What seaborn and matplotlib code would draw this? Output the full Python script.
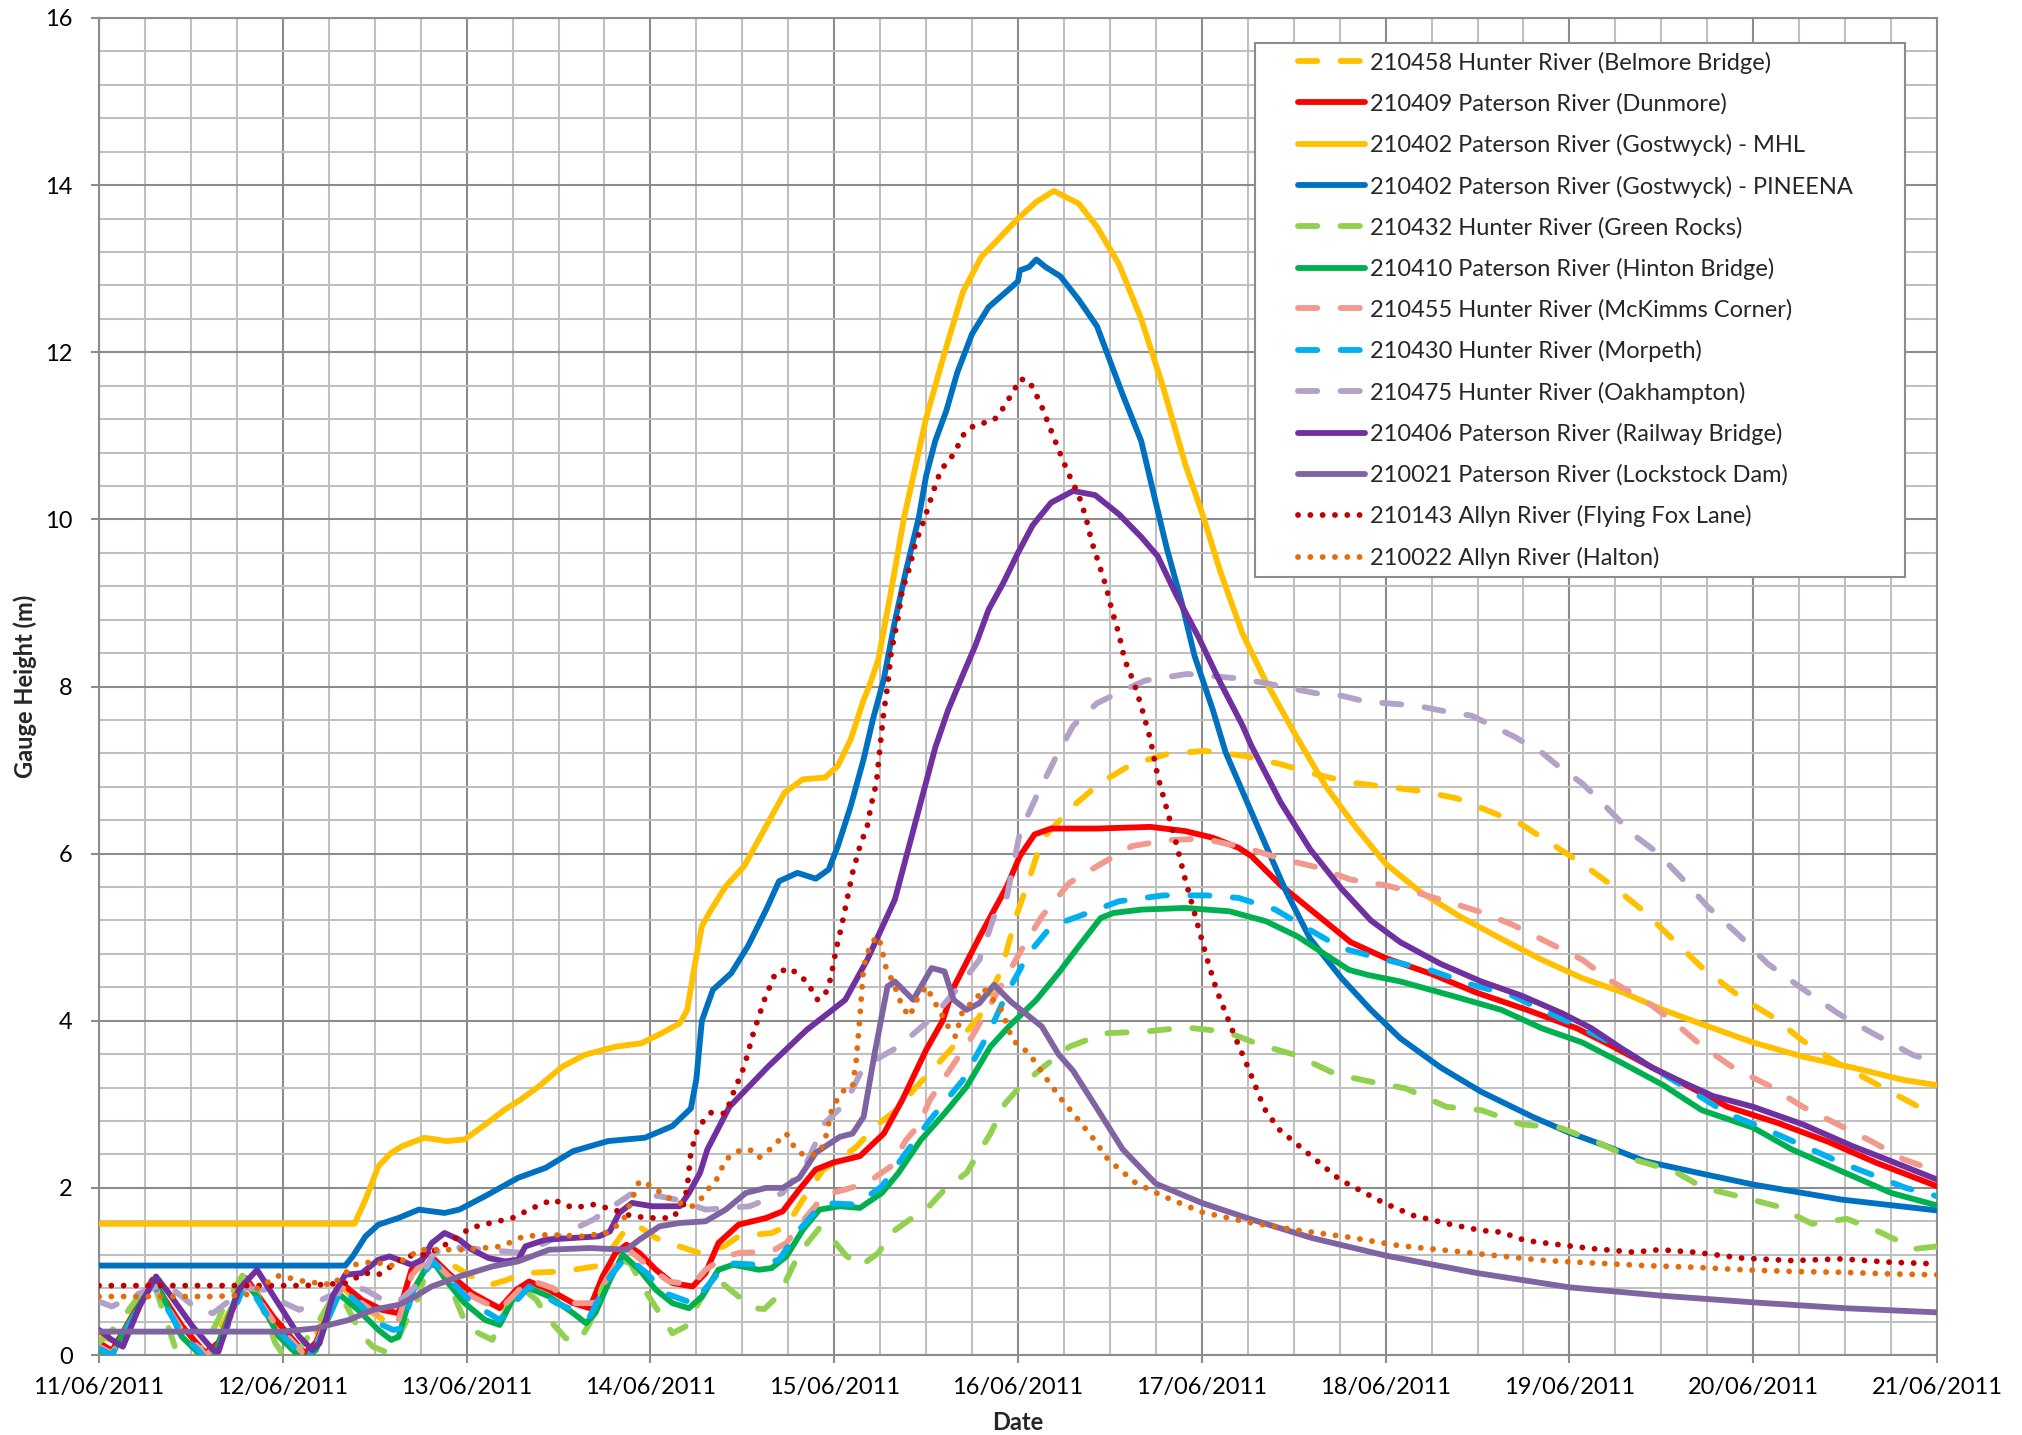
import matplotlib
matplotlib.use("Agg")
import matplotlib.dates as mdates
import matplotlib.pyplot as plt
import numpy as np
import pandas as pd
import seaborn as sns
from matplotlib.legend_handler import HandlerLine2D
from matplotlib.lines import Line2D
from matplotlib.ticker import MultipleLocator

# ---- data: time in day-of-June 2011, gauge height in metres ----
belmore_t = [11.00, 11.12, 11.29, 11.45, 11.58, 11.80, 11.95, 12.12, 12.32, 12.45, 12.55, 12.63, 12.72, 12.82,
             12.92, 13.02, 13.13, 13.22, 13.31, 13.52, 13.70, 13.80, 13.87, 13.93, 14.03, 14.10, 14.27, 14.40,
             14.48, 14.66, 14.74, 14.83, 14.94, 15.03, 15.12, 15.22, 15.36, 15.43, 15.55, 15.68, 15.79, 15.91,
             15.99, 16.06, 16.13, 16.30, 16.45, 16.62, 16.81, 17.01, 17.23, 17.43, 17.62, 17.81, 18.00, 18.19,
             18.39, 18.55, 18.74, 18.90, 19.07, 19.23, 19.40, 19.56, 19.72, 19.92, 20.11, 20.27, 20.46, 20.68,
             20.90, 21.00]
belmore_h = [0.22, 0.15, 0.86, 0.35, 0.00, 0.88, 0.40, 0.00, 0.82, 0.55, 0.42, 0.45, 0.85, 1.15,
             1.08, 0.95, 0.84, 0.90, 0.98, 1.00, 1.06, 1.30, 1.52, 1.55, 1.40, 1.34, 1.22, 1.30,
             1.42, 1.46, 1.54, 1.86, 2.22, 2.34, 2.49, 2.73, 2.97, 3.17, 3.45, 3.77, 4.05, 4.61,
             5.25, 5.69, 6.17, 6.57, 6.85, 7.07, 7.19, 7.23, 7.17, 7.07, 6.95, 6.85, 6.80, 6.75,
             6.66, 6.52, 6.35, 6.12, 5.88, 5.62, 5.32, 4.98, 4.64, 4.30, 4.04, 3.76, 3.49, 3.23,
             2.97, 2.90]

dunmore_t = [11.00, 11.07, 11.15, 11.29, 11.45, 11.58, 11.65, 11.80, 11.95, 12.12, 12.18, 12.32, 12.43, 12.54,
             12.63, 12.70, 12.79, 12.90, 13.03, 13.18, 13.27, 13.34, 13.45, 13.58, 13.67, 13.74, 13.81, 13.87,
             13.94, 14.03, 14.12, 14.23, 14.30, 14.37, 14.48, 14.63, 14.72, 14.81, 14.90, 14.99, 15.14, 15.27,
             15.37, 15.50, 15.59, 15.65, 15.79, 15.94, 16.01, 16.09, 16.18, 16.43, 16.72, 16.91, 17.06, 17.20,
             17.27, 17.43, 17.62, 17.81, 18.00, 18.25, 18.49, 18.77, 19.04, 19.23, 19.45, 19.67, 19.86, 20.13,
             20.41, 20.67, 21.00]
dunmore_h = [0.15, 0.05, 0.35, 0.90, 0.35, 0.02, 0.15, 0.92, 0.45, 0.02, 0.15, 0.86, 0.66, 0.54,
             0.50, 1.02, 1.22, 0.98, 0.74, 0.56, 0.78, 0.88, 0.78, 0.62, 0.56, 0.94, 1.22, 1.32,
             1.22, 1.02, 0.86, 0.82, 0.98, 1.34, 1.56, 1.64, 1.72, 1.98, 2.22, 2.30, 2.38, 2.65,
             3.05, 3.65, 4.00, 4.40, 5.00, 5.61, 5.97, 6.23, 6.30, 6.30, 6.32, 6.27, 6.19, 6.07,
             5.97, 5.62, 5.28, 4.94, 4.75, 4.56, 4.34, 4.13, 3.91, 3.70, 3.44, 3.19, 2.97, 2.78,
             2.55, 2.30, 2.02]

mhl_t = [11.00, 12.39, 12.45, 12.52, 12.59, 12.65, 12.77, 12.89, 12.99, 13.09, 13.21, 13.29, 13.39, 13.52,
         13.64, 13.81, 13.95, 14.06, 14.16, 14.20, 14.24, 14.28, 14.32, 14.41, 14.51, 14.61, 14.73, 14.83,
         14.95, 15.02, 15.09, 15.16, 15.19, 15.24, 15.31, 15.38, 15.44, 15.50, 15.60, 15.70, 15.80, 16.00,
         16.10, 16.195, 16.33, 16.43, 16.55, 16.67, 16.79, 16.91, 17.01, 17.10, 17.22, 17.35, 17.51, 17.67,
         17.84, 18.00, 18.19, 18.41, 18.63, 18.85, 19.07, 19.29, 19.51, 19.72, 20.00, 20.27, 20.54, 20.82,
         21.00]
mhl_h = [1.57, 1.57, 1.86, 2.26, 2.42, 2.50, 2.60, 2.56, 2.58, 2.74, 2.94, 3.05, 3.21, 3.45,
         3.59, 3.69, 3.73, 3.85, 3.97, 4.13, 4.65, 5.13, 5.29, 5.61, 5.85, 6.25, 6.73, 6.89,
         6.91, 7.05, 7.37, 7.84, 8.00, 8.32, 9.15, 10.02, 10.61, 11.21, 11.99, 12.72, 13.14, 13.60,
         13.80, 13.93, 13.78, 13.50, 13.05, 12.40, 11.58, 10.66, 10.02, 9.38, 8.64, 8.05, 7.42, 6.82,
         6.31, 5.88, 5.54, 5.24, 4.98, 4.73, 4.51, 4.34, 4.13, 3.96, 3.74, 3.57, 3.44, 3.29,
         3.23]

pineena_t = [11.00, 12.34, 12.38, 12.45, 12.52, 12.63, 12.74, 12.88, 12.96, 13.10, 13.28, 13.43, 13.58, 13.77,
             13.97, 14.12, 14.22, 14.25, 14.28, 14.34, 14.44, 14.53, 14.63, 14.70, 14.80, 14.90, 14.97, 15.02,
             15.09, 15.16, 15.21, 15.27, 15.33, 15.39, 15.46, 15.50, 15.55, 15.61, 15.67, 15.75, 15.84, 15.96,
             16.00, 16.01, 16.06, 16.10, 16.15, 16.23, 16.33, 16.43, 16.50, 16.57, 16.67, 16.74, 16.81, 16.89,
             16.96, 17.06, 17.13, 17.24, 17.35, 17.46, 17.59, 17.76, 17.92, 18.08, 18.30, 18.52, 18.80, 19.00,
             19.20, 19.41, 19.70, 20.00, 20.48, 21.00]
pineena_h = [1.07, 1.07, 1.18, 1.42, 1.56, 1.64, 1.74, 1.70, 1.74, 1.90, 2.12, 2.24, 2.44, 2.56,
             2.60, 2.74, 2.95, 3.30, 4.00, 4.37, 4.57, 4.89, 5.33, 5.67, 5.77, 5.70, 5.81, 6.09,
             6.57, 7.13, 7.60, 8.09, 8.78, 9.38, 10.02, 10.52, 10.94, 11.30, 11.76, 12.22, 12.54, 12.77,
             12.85, 12.98, 13.02, 13.11, 13.02, 12.91, 12.63, 12.31, 11.90, 11.49, 10.94, 10.29, 9.65, 9.01,
             8.37, 7.72, 7.21, 6.65, 6.09, 5.54, 4.98, 4.51, 4.13, 3.79, 3.44, 3.15, 2.85, 2.66,
             2.50, 2.32, 2.18, 2.04, 1.86, 1.73]

greenrocks_t = [11.00, 11.11, 11.24, 11.30, 11.42, 11.50, 11.63, 11.69, 11.78, 11.85, 11.96, 12.03, 12.10, 12.20,
                12.26, 12.32, 12.43, 12.49, 12.58, 12.63, 12.74, 12.79, 12.85, 12.92, 12.99, 13.03, 13.14, 13.22,
                13.29, 13.38, 13.45, 13.54, 13.61, 13.67, 13.74, 13.83, 13.89, 13.98, 14.05, 14.12, 14.19, 14.25,
                14.34, 14.39, 14.48, 14.56, 14.62, 14.70, 14.74, 14.81, 14.92, 14.97, 15.06, 15.14, 15.24, 15.31,
                15.41, 15.50, 15.60, 15.72, 15.85, 15.93, 16.01, 16.14, 16.28, 16.47, 16.69, 16.91, 17.13, 17.32,
                17.51, 17.73, 17.92, 18.11, 18.33, 18.52, 18.74, 18.95, 19.15, 19.35, 19.57, 19.73, 19.92, 20.13,
                20.32, 20.51, 20.69, 20.88, 21.00]
greenrocks_h = [0.15, 0.38, 0.78, 0.85, 0.05, -0.10, 0.34, 0.62, 0.95, 0.80, 0.14, -0.08, 0.10, 0.42,
                0.65, 0.70, 0.24, 0.10, 0.02, 0.22, 0.70, 1.10, 1.05, 0.78, 0.40, 0.30, 0.18, 0.58,
                0.82, 0.66, 0.42, 0.20, 0.16, 0.38, 0.82, 1.14, 1.10, 0.74, 0.50, 0.26, 0.34, 0.58,
                0.90, 0.86, 0.70, 0.56, 0.55, 0.72, 0.90, 1.22, 1.52, 1.44, 1.20, 1.06, 1.22, 1.46,
                1.62, 1.74, 1.98, 2.18, 2.65, 3.01, 3.21, 3.45, 3.69, 3.85, 3.87, 3.92, 3.87, 3.71,
                3.59, 3.36, 3.27, 3.19, 2.97, 2.93, 2.76, 2.72, 2.55, 2.34, 2.20, 2.00, 1.90, 1.78,
                1.57, 1.63, 1.47, 1.27, 1.30]

hinton_t = [11.00, 11.07, 11.14, 11.29, 11.34, 11.45, 11.58, 11.63, 11.76, 11.80, 11.86, 11.98, 12.11, 12.18,
            12.30, 12.41, 12.52, 12.59, 12.63, 12.70, 12.79, 12.83, 12.90, 12.99, 13.10, 13.18, 13.25, 13.34,
            13.45, 13.58, 13.65, 13.70, 13.78, 13.85, 13.94, 14.03, 14.12, 14.21, 14.28, 14.37, 14.45, 14.59,
            14.66, 14.74, 14.83, 14.92, 15.03, 15.14, 15.26, 15.35, 15.47, 15.60, 15.72, 15.85, 15.95, 16.10,
            16.22, 16.33, 16.45, 16.52, 16.67, 16.91, 17.15, 17.35, 17.52, 17.66, 17.80, 17.90, 18.08, 18.36,
            18.63, 18.85, 19.07, 19.29, 19.51, 19.72, 20.00, 20.21, 20.48, 20.75, 21.00]
hinton_h = [0.06, 0.00, 0.30, 0.86, 0.74, 0.22, -0.06, 0.02, 0.78, 0.86, 0.70, 0.22, -0.06, 0.06,
            0.74, 0.54, 0.30, 0.18, 0.22, 0.74, 1.08, 1.08, 0.86, 0.62, 0.42, 0.36, 0.66, 0.80,
            0.70, 0.50, 0.38, 0.50, 0.90, 1.20, 1.02, 0.78, 0.62, 0.56, 0.70, 1.02, 1.08, 1.02,
            1.04, 1.18, 1.50, 1.74, 1.78, 1.76, 1.94, 2.18, 2.57, 2.89, 3.21, 3.69, 3.93, 4.25,
            4.57, 4.89, 5.23, 5.29, 5.33, 5.35, 5.31, 5.19, 5.01, 4.81, 4.61, 4.55, 4.47, 4.30,
            4.13, 3.91, 3.74, 3.49, 3.23, 2.93, 2.72, 2.46, 2.20, 1.94, 1.79]

mckimms_t = [11.00, 11.07, 11.15, 11.29, 11.45, 11.58, 11.65, 11.80, 11.95, 12.12, 12.18, 12.32, 12.43, 12.54,
             12.63, 12.70, 12.79, 12.90, 13.03, 13.18, 13.34, 13.47, 13.58, 13.69, 13.76, 13.87, 13.99, 14.10,
             14.23, 14.30, 14.41, 14.48, 14.66, 14.74, 14.85, 14.95, 15.06, 15.18, 15.31, 15.39, 15.46, 15.52,
             15.58, 15.64, 15.75, 15.89, 16.04, 16.13, 16.28, 16.43, 16.62, 16.81, 17.01, 17.15, 17.21, 17.43,
             17.62, 17.81, 18.00, 18.19, 18.36, 18.52, 18.69, 18.88, 19.07, 19.23, 19.40, 19.56, 19.72, 19.89,
             20.08, 20.27, 20.46, 20.65, 20.82, 21.00]
mckimms_h = [0.10, 0.02, 0.30, 0.85, 0.30, 0.00, 0.12, 0.88, 0.40, 0.00, 0.12, 0.82, 0.62, 0.45,
             0.42, 0.95, 1.18, 0.95, 0.70, 0.54, 0.90, 0.80, 0.62, 0.62, 0.90, 1.28, 1.06, 0.88,
             0.84, 1.02, 1.18, 1.22, 1.24, 1.34, 1.66, 1.92, 1.98, 2.06, 2.26, 2.57, 2.75, 3.05,
             3.25, 3.45, 3.81, 4.35, 4.93, 5.25, 5.65, 5.85, 6.09, 6.16, 6.18, 6.11, 6.09, 5.94,
             5.84, 5.69, 5.62, 5.52, 5.41, 5.30, 5.15, 4.94, 4.73, 4.47, 4.26, 4.00, 3.70, 3.44,
             3.23, 2.97, 2.76, 2.55, 2.34, 2.20]

morpeth_t = [11.00, 11.07, 11.15, 11.29, 11.45, 11.58, 11.65, 11.80, 11.95, 12.12, 12.18, 12.32, 12.43, 12.52,
             12.60, 12.65, 12.72, 12.82, 12.90, 13.03, 13.18, 13.34, 13.49, 13.67, 13.78, 13.87, 13.98, 14.08,
             14.23, 14.34, 14.41, 14.59, 14.70, 14.81, 14.94, 15.12, 15.26, 15.39, 15.52, 15.70, 15.84, 15.94,
             16.06, 16.18, 16.33, 16.55, 16.79, 17.03, 17.20, 17.40, 17.57, 17.76, 18.00, 18.25, 18.47, 18.69,
             18.85, 19.07, 19.26, 19.45, 19.67, 19.86, 20.05, 20.48, 20.83, 21.00]
morpeth_h = [0.08, 0.00, 0.30, 0.86, 0.26, -0.04, 0.08, 0.88, 0.35, -0.04, 0.10, 0.80, 0.58, 0.38,
             0.30, 0.32, 0.85, 1.12, 0.92, 0.62, 0.42, 0.82, 0.62, 0.46, 0.94, 1.18, 0.98, 0.74,
             0.62, 0.90, 1.10, 1.08, 1.14, 1.50, 1.82, 1.80, 2.02, 2.42, 2.81, 3.29, 3.85, 4.33,
             4.81, 5.13, 5.25, 5.43, 5.50, 5.50, 5.47, 5.33, 5.11, 4.87, 4.73, 4.60, 4.43, 4.30,
             4.13, 3.91, 3.70, 3.44, 3.15, 2.89, 2.72, 2.30, 2.00, 1.90]

oakhampton_t = [11.00, 11.07, 11.20, 11.36, 11.54, 11.62, 11.80, 11.90, 12.01, 12.09, 12.25, 12.38, 12.45, 12.56,
                12.63, 12.74, 12.81, 12.88, 12.99, 13.10, 13.31, 13.54, 13.69, 13.89, 14.05, 14.14, 14.30, 14.54,
                14.72, 14.85, 14.95, 15.06, 15.16, 15.35, 15.54, 15.68, 15.79, 15.87, 15.94, 16.01, 16.11, 16.21,
                16.30, 16.43, 16.57, 16.69, 16.92, 17.18, 17.35, 17.48, 17.62, 17.76, 17.89, 18.06, 18.17, 18.33,
                18.47, 18.58, 18.70, 18.85, 18.96, 19.07, 19.20, 19.34, 19.48, 19.61, 19.75, 19.92, 20.08, 20.27,
                20.46, 20.65, 20.87, 21.00]
oakhampton_h = [0.64, 0.58, 0.72, 0.86, 0.54, 0.50, 0.80, 0.78, 0.62, 0.54, 0.70, 0.82, 0.78, 0.64,
                0.64, 0.86, 1.18, 1.30, 1.28, 1.26, 1.22, 1.46, 1.62, 1.92, 1.90, 1.86, 1.74, 1.78,
                1.94, 2.30, 2.78, 3.01, 3.45, 3.69, 4.05, 4.41, 4.73, 5.25, 5.49, 6.25, 6.73, 7.17,
                7.53, 7.80, 7.95, 8.07, 8.15, 8.10, 8.04, 7.98, 7.92, 7.89, 7.82, 7.79, 7.77, 7.70,
                7.65, 7.53, 7.40, 7.21, 7.01, 6.84, 6.56, 6.24, 6.01, 5.71, 5.37, 5.03, 4.68, 4.38,
                4.09, 3.85, 3.59, 3.50]

railway_t = [11.00, 11.07, 11.13, 11.22, 11.31, 11.38, 11.51, 11.62, 11.65, 11.76, 11.86, 11.94, 12.09, 12.16,
             12.20, 12.27, 12.34, 12.43, 12.52, 12.58, 12.63, 12.70, 12.76, 12.81, 12.88, 12.96, 13.03, 13.12,
             13.21, 13.28, 13.32, 13.43, 13.72, 13.78, 13.83, 13.90, 14.01, 14.16, 14.21, 14.27, 14.31, 14.43,
             14.64, 14.85, 15.06, 15.18, 15.33, 15.55, 15.62, 15.70, 15.77, 15.84, 15.92, 16.00, 16.08, 16.18,
             16.30, 16.42, 16.55, 16.67, 16.76, 16.86, 16.98, 17.10, 17.22, 17.27, 17.43, 17.59, 17.76, 17.92,
             18.08, 18.30, 18.52, 18.74, 18.96, 19.12, 19.29, 19.45, 19.61, 19.78, 20.00, 20.27, 20.54, 20.75,
             21.00]
railway_h = [0.30, 0.18, 0.10, 0.58, 0.94, 0.74, 0.34, 0.06, 0.04, 0.78, 1.02, 0.74, 0.22, 0.06,
             0.14, 0.70, 0.96, 0.98, 1.14, 1.18, 1.14, 1.08, 1.14, 1.34, 1.46, 1.38, 1.26, 1.16,
             1.12, 1.14, 1.30, 1.38, 1.42, 1.48, 1.70, 1.82, 1.78, 1.78, 1.94, 2.18, 2.46, 2.97,
             3.45, 3.89, 4.25, 4.73, 5.45, 7.27, 7.72, 8.14, 8.50, 8.92, 9.24, 9.60, 9.93, 10.20,
             10.34, 10.29, 10.06, 9.79, 9.56, 9.10, 8.60, 8.05, 7.54, 7.29, 6.61, 6.05, 5.58, 5.20,
             4.94, 4.68, 4.47, 4.30, 4.09, 3.91, 3.66, 3.44, 3.27, 3.10, 2.97, 2.76, 2.50, 2.32,
             2.10]

lockstock_t = [11.00, 12.00, 12.18, 12.36, 12.49, 12.63, 12.72, 12.81, 12.96, 13.14, 13.28, 13.45, 13.67, 13.87,
               13.94, 14.05, 14.16, 14.30, 14.41, 14.52, 14.63, 14.72, 14.81, 14.90, 15.03, 15.10, 15.16, 15.22,
               15.29, 15.33, 15.43, 15.53, 15.60, 15.65, 15.72, 15.79, 15.87, 15.96, 16.13, 16.22, 16.30, 16.43,
               16.57, 16.75, 17.00, 17.26, 17.60, 18.00, 18.50, 19.00, 19.50, 20.00, 20.50, 21.00]
lockstock_h = [0.28, 0.28, 0.32, 0.42, 0.54, 0.60, 0.70, 0.82, 0.94, 1.06, 1.12, 1.26, 1.28, 1.26,
               1.38, 1.54, 1.58, 1.60, 1.74, 1.94, 2.00, 2.00, 2.12, 2.42, 2.61, 2.65, 2.85, 3.61,
               4.41, 4.47, 4.25, 4.63, 4.59, 4.25, 4.13, 4.21, 4.43, 4.23, 3.93, 3.60, 3.40, 2.95,
               2.46, 2.05, 1.82, 1.63, 1.40, 1.19, 0.98, 0.81, 0.71, 0.63, 0.56, 0.51]

flyingfox_t = [11.00, 12.12, 12.34, 12.45, 12.52, 12.67, 12.79, 12.91, 13.02, 13.13, 13.25, 13.36, 13.47, 13.58,
               13.69, 13.80, 13.90, 14.01, 14.12, 14.18, 14.20, 14.22, 14.26, 14.33, 14.41, 14.45, 14.51, 14.56,
               14.62, 14.68, 14.76, 14.85, 14.91, 14.95, 14.98, 15.01, 15.04, 15.07, 15.10, 15.14, 15.18, 15.20,
               15.23, 15.25, 15.27, 15.29, 15.31, 15.35, 15.37, 15.41, 15.44, 15.49, 15.54, 15.58, 15.65, 15.71,
               15.76, 15.87, 15.91, 15.98, 16.01, 16.06, 16.12, 16.17, 16.22, 16.27, 16.33, 16.37, 16.40, 16.44,
               16.48, 16.51, 16.55, 16.58, 16.63, 16.67, 16.72, 16.76, 16.81, 16.86, 16.91, 16.98, 17.03, 17.08,
               17.13, 17.18, 17.25, 17.34, 17.42, 17.53, 17.75, 17.99, 18.15, 18.34, 18.52, 18.63, 18.76, 18.98,
               19.14, 19.35, 19.49, 19.68, 19.94, 20.21, 20.48, 20.75, 21.00]
flyingfox_h = [0.83, 0.83, 0.86, 0.98, 0.96, 1.18, 1.21, 1.35, 1.52, 1.58, 1.64, 1.76, 1.86, 1.76,
               1.80, 1.74, 1.66, 1.64, 1.64, 1.80, 2.00, 2.42, 2.73, 2.90, 2.89, 3.13, 3.45, 3.85,
               4.25, 4.57, 4.63, 4.47, 4.25, 4.31, 4.50, 4.85, 5.13, 5.45, 5.77, 6.09, 6.33, 6.57,
               6.85, 7.29, 7.70, 8.00, 8.41, 8.85, 9.15, 9.42, 9.70, 10.00, 10.34, 10.59, 10.78, 11.04,
               11.12, 11.19, 11.30, 11.55, 11.68, 11.66, 11.40, 11.12, 10.84, 10.57, 10.29, 10.02, 9.74, 9.47,
               9.19, 8.92, 8.62, 8.32, 8.05, 7.77, 7.37, 6.93, 6.53, 6.13, 5.69, 5.13, 4.73, 4.37,
               4.09, 3.81, 3.45, 2.95, 2.70, 2.50, 2.10, 1.82, 1.67, 1.57, 1.49, 1.47, 1.37, 1.31,
               1.27, 1.23, 1.26, 1.23, 1.16, 1.13, 1.15, 1.11, 1.09]

halton_t = [11.00, 11.63, 11.80, 11.98, 12.12, 12.27, 12.39, 12.50, 12.58, 12.68, 12.74, 12.99, 13.19, 13.31,
            13.45, 13.63, 13.76, 13.85, 13.94, 14.01, 14.08, 14.16, 14.23, 14.28, 14.32, 14.36, 14.41, 14.48,
            14.54, 14.59, 14.65, 14.70, 14.74, 14.77, 14.81, 14.86, 14.92, 14.95, 14.99, 15.06, 15.10, 15.12,
            15.14, 15.16, 15.20, 15.24, 15.26, 15.28, 15.33, 15.37, 15.41, 15.45, 15.50, 15.56, 15.62, 15.66,
            15.70, 15.77, 15.81, 15.85, 15.91, 15.97, 16.06, 16.16, 16.24, 16.33, 16.41, 16.49, 16.64, 16.79,
            17.00, 17.25, 17.53, 17.80, 18.07, 18.34, 18.60, 18.87, 19.14, 19.41, 19.68, 19.94, 20.21, 20.48,
            20.75, 21.00]
halton_h = [0.70, 0.70, 0.72, 0.95, 0.88, 0.84, 1.08, 1.12, 1.06, 1.16, 1.26, 1.26, 1.30, 1.42,
            1.44, 1.42, 1.46, 1.60, 2.08, 2.02, 1.90, 1.82, 1.78, 1.88, 2.00, 2.10, 2.34, 2.44,
            2.46, 2.36, 2.46, 2.57, 2.65, 2.53, 2.42, 2.38, 2.42, 2.57, 2.97, 3.19, 3.21, 3.53,
            4.05, 4.65, 4.93, 5.01, 4.85, 4.65, 4.41, 4.17, 4.05, 4.25, 4.41, 4.17, 3.93, 3.81,
            4.13, 4.25, 4.39, 4.29, 4.13, 3.77, 3.61, 3.29, 3.05, 2.81, 2.59, 2.34, 2.06, 1.90,
            1.71, 1.59, 1.49, 1.41, 1.31, 1.25, 1.19, 1.13, 1.10, 1.07, 1.05, 1.02, 1.00, 0.99,
            0.97, 0.96]

labels = [
    "210458 Hunter River (Belmore Bridge)",
    "210409 Paterson River (Dunmore)",
    "210402 Paterson River (Gostwyck) - MHL",
    "210402 Paterson River (Gostwyck) - PINEENA",
    "210432 Hunter River (Green Rocks)",
    "210410 Paterson River (Hinton Bridge)",
    "210455 Hunter River (McKimms Corner)",
    "210430 Hunter River (Morpeth)",
    "210475 Hunter River (Oakhampton)",
    "210406 Paterson River (Railway Bridge)",
    "210021 Paterson River (Lockstock Dam)",
    "210143 Allyn River (Flying Fox Lane)",
    "210022 Allyn River (Halton)",
]
times = [belmore_t, dunmore_t, mhl_t, pineena_t, greenrocks_t, hinton_t, mckimms_t,
         morpeth_t, oakhampton_t, railway_t, lockstock_t, flyingfox_t, halton_t]
heights = [belmore_h, dunmore_h, mhl_h, pineena_h, greenrocks_h, hinton_h, mckimms_h,
           morpeth_h, oakhampton_h, railway_h, lockstock_h, flyingfox_h, halton_h]

# ---- styles ----
colors = ["#FFC000", "#FF0000", "#FFC000", "#0070C0", "#92D050", "#00B050", "#F0998C",
          "#00B0F0", "#B3A2C7", "#7030A0", "#8064A2", "#C00000", "#E46C0A"]
DASH = (3.3, 4.0)
DOT = (0.01, 2.1)
patterns = [DASH, None, None, None, DASH, None, DASH, DASH, DASH, None, None, DOT, DOT]
LW = 4.2
FONT = 17


def to_dates(days):
    return pd.Timestamp("2011-06-01") + pd.to_timedelta(np.asarray(days, dtype=float) - 1.0, unit="D")


class IndentedLine(HandlerLine2D):
    # Excel style legend keys: indent the line sample from the frame edge
    def get_xdata(self, legend, xdescent, ydescent, width, height, fontsize):
        lead = 1.45 * fontsize
        return np.array([-xdescent + lead, -xdescent + width]), np.array([-xdescent + lead + 0.5 * width])


sns.set_theme(style="white")
plt.rcParams["font.family"] = ["Lato", "DejaVu Sans"]

fig = plt.figure(figsize=(20.22, 14.35), dpi=100)
ax = fig.add_axes([99 / 2022, 80 / 1435, 1838 / 2022, 1337 / 1435])

for i, (lab, t, h, col, pat) in enumerate(zip(labels, times, heights, colors, patterns)):
    sns.lineplot(x=to_dates(t), y=h, ax=ax, color=col, linewidth=LW, label=lab,
                 sort=False, estimator=None, zorder=3 + i,
                 solid_capstyle="round", dash_capstyle="round")
    line = ax.get_lines()[-1]
    if pat is not None:
        line.set_dashes(pat)

ax.set_xlim(pd.Timestamp("2011-06-11"), pd.Timestamp("2011-06-21"))
ax.set_ylim(0, 16)
ax.xaxis.set_major_locator(mdates.DayLocator())
ax.xaxis.set_major_formatter(mdates.DateFormatter("%d/%m/%Y"))
ax.xaxis.set_minor_locator(mdates.HourLocator(byhour=[6, 12, 18]))
ax.yaxis.set_major_locator(MultipleLocator(2))
ax.yaxis.set_minor_locator(MultipleLocator(0.4))

ax.set_axisbelow(True)
ax.grid(which="major", color="#8C8C8C", linewidth=1.5)
ax.grid(which="minor", color="#C0C0C0", linewidth=1.5)
for side in ["left", "right", "top", "bottom"]:
    ax.spines[side].set_visible(True)
    ax.spines[side].set_color("#8C8C8C")
    ax.spines[side].set_linewidth(1.5)

ax.tick_params(which="major", length=6, width=1.5, color="#8C8C8C", labelsize=FONT, labelcolor="black")
ax.tick_params(axis="x", which="major", pad=10, bottom=True)
ax.tick_params(axis="y", which="major", pad=13, left=True)
ax.tick_params(which="minor", length=0)

ax.set_xlabel("Date", fontsize=FONT, fontweight="bold")
ax.set_ylabel("Gauge Height (m)", fontsize=FONT, fontweight="bold")
ax.xaxis.set_label_coords(0.5, -0.042)
ax.yaxis.set_label_coords(-0.034, 0.5)

handles, labs = ax.get_legend_handles_labels()
leg = ax.legend(handles, labs, loc="upper left", bbox_to_anchor=(0.629, 0.583, 0.3536, 0.398),
                mode="expand", borderaxespad=0, fontsize=FONT, frameon=True, fancybox=False,
                framealpha=1, edgecolor="#8C8C8C", handlelength=4.3, handletextpad=0.2,
                labelspacing=0.82, borderpad=0.35, handler_map={Line2D: IndentedLine()})
leg.get_frame().set_linewidth(1.5)
leg.set_zorder(20)

fig.savefig("out.png", dpi=100)
